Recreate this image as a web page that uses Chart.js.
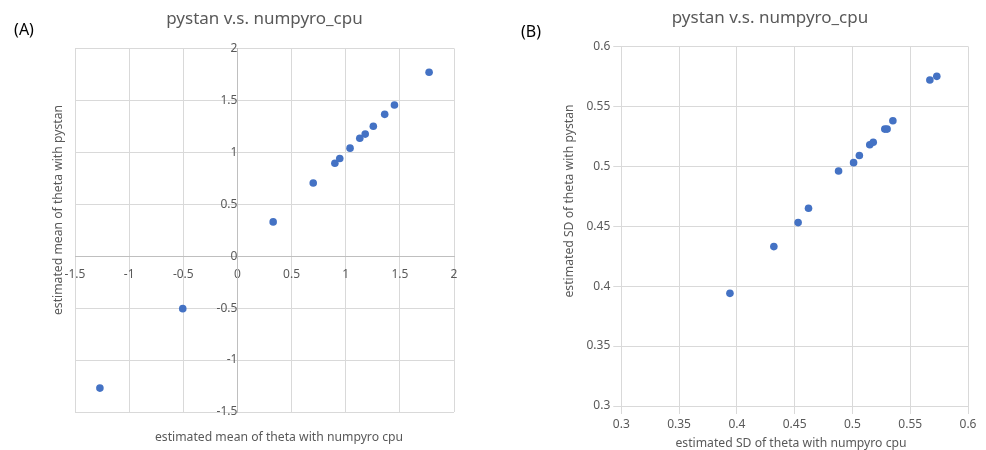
<!DOCTYPE html>
<html>
<head>
<meta charset="utf-8">
<title>pystan v.s. numpyro_cpu</title>
<script src="https://cdn.jsdelivr.net/npm/chart.js@4/dist/chart.umd.min.js"></script>
<style>
    body { margin: 0; background: #fff; }
    #wrap { position: relative; width: 986px; height: 450px; }
    canvas { position: absolute; top: 0; }
    #chartA { left: 0; }
    #chartB { left: 493px; }
</style>
</head>
<body>
<div id="wrap">
    <canvas id="chartA" width="493" height="450"></canvas>
    <canvas id="chartB" width="493" height="450"></canvas>
</div>
<script>
// Datos (A): media estimada de theta
const meanNumpyro = [-1.27, -0.505, 0.33, 0.70, 0.90, 0.945, 1.04, 1.13, 1.18, 1.255, 1.36, 1.45, 1.77];
const meanPystan  = [-1.27, -0.505, 0.33, 0.705, 0.895, 0.94, 1.04, 1.135, 1.175, 1.25, 1.365, 1.455, 1.77];

// Datos (B): SD estimada de theta
const sdNumpyro = [0.394, 0.432, 0.453, 0.462, 0.488, 0.501, 0.506, 0.515, 0.518, 0.528, 0.530, 0.535, 0.567, 0.573];
const sdPystan  = [0.394, 0.433, 0.453, 0.465, 0.496, 0.503, 0.509, 0.518, 0.520, 0.531, 0.531, 0.538, 0.572, 0.575];

const chartTitle = 'pystan v.s. numpyro_cpu';
const FONT = "'Noto Sans', 'Open Sans', sans-serif";
const GRAY = '#595959';
const GRID = '#d9d9d9';
const BLUE = '#4472C4';

window.charts = {};

// Etiquetas "0.35" / "2" sin ceros de relleno
const tickLabel = v => String(+Number(v).toFixed(2));

/**
 * Plugin: textos sueltos (panel y títulos de ejes)
 */
const freeText = {
    id: 'freeText',
    afterDraw(chart, args, opts) {
        const ctx = chart.ctx;
        (opts.items || []).forEach(it => {
            ctx.save();
            ctx.font = `${it.size}px ${FONT}`;
            ctx.fillStyle = it.color || GRAY;
            ctx.textAlign = 'center';
            ctx.textBaseline = 'middle';
            ctx.translate(it.x, it.y);
            if (it.rotate) ctx.rotate(-Math.PI / 2);
            ctx.fillText(it.text, 0, 0);
            ctx.restore();
        });
    }
};

function pairs(xs, ys) {
    return xs.map((x, i) => ({ x: x, y: ys[i] }));
}

function createScatter(canvasId, xs, ys, cfg) {
    const ctx = document.getElementById(canvasId).getContext('2d');

    const chart = new Chart(ctx, {
        type: 'scatter',
        data: {
            datasets: [{
                data: pairs(xs, ys),
                backgroundColor: BLUE,
                borderColor: BLUE,
                borderWidth: 0,
                pointRadius: 3.8,
                pointHoverRadius: 3.8
            }]
        },
        options: {
            responsive: false,
            animation: false,
            devicePixelRatio: 1,
            layout: { padding: cfg.padding },
            plugins: {
                legend: { display: false },
                tooltip: { enabled: false },
                title: {
                    display: true,
                    text: chartTitle,
                    color: GRAY,
                    font: { family: FONT, size: 17, weight: 'normal' },
                    padding: cfg.titlePadding
                },
                freeText: { items: cfg.texts }
            },
            scales: cfg.scales
        },
        plugins: [freeText]
    });

    window.charts[canvasId] = chart;
    return chart;
}

function axis(min, max, step, extra) {
    return Object.assign({
        type: 'linear',
        min: min,
        max: max,
        ticks: {
            stepSize: step,
            color: GRAY,
            font: { family: FONT, size: 12 },
            callback: tickLabel
        },
        grid: { color: GRID, lineWidth: 1 },
        border: { color: GRID }
    }, extra);
}

// (A) ejes cruzando en cero
createScatter('chartA', meanNumpyro, meanPystan, {
    padding: { left: 75, right: 39, top: 0, bottom: 38 },
    titlePadding: { top: 9, bottom: 19 },
    scales: {
        x: axis(-1.5, 2, 0.5, { position: { y: 0 }, border: { color: '#bfbfbf' } }),
        y: axis(-1.5, 2, 0.5, { position: { x: 0 }, border: { color: '#bfbfbf' } })
    },
    texts: [
        { text: '(A)', x: 24, y: 30, size: 16, color: '#000' },
        { text: 'estimated mean of theta with numpyro cpu', x: 279, y: 438, size: 12.2 },
        { text: 'estimated mean of theta with pystan', x: 59, y: 210, size: 12.2, rotate: true }
    ]
});

// (B) ejes normales abajo / izquierda
createScatter('chartB', sdNumpyro, sdPystan, {
    padding: { left: 79, right: 18, top: 0, bottom: 0 },
    titlePadding: { top: 8, bottom: 18 },
    scales: {
        x: axis(0.3, 0.6, 0.05, { afterFit: s => { s.height = 44; } }),
        y: axis(0.3, 0.6, 0.05, { afterFit: s => { s.width = 49.3; } })
    },
    texts: [
        { text: '(B)', x: 38, y: 32, size: 16, color: '#000' },
        { text: 'estimated SD of theta with numpyro cpu', x: 298, y: 444, size: 12.2 },
        { text: 'estimated SD of theta with pystan', x: 77, y: 201, size: 12.2, rotate: true }
    ]
});
</script>
</body>
</html>
